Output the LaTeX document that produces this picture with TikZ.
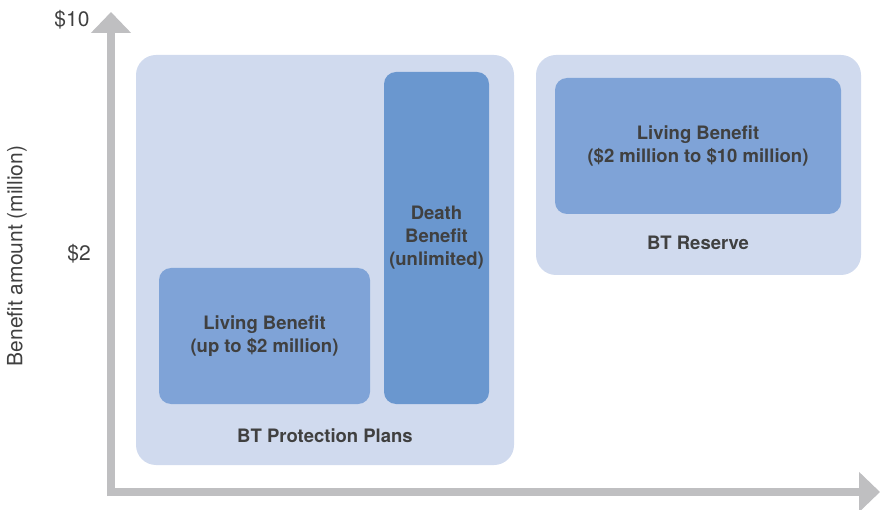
\documentclass[tikz,border=0pt]{standalone}
\usepackage{fontspec}
\setmainfont{TeX Gyre Heros}
\usetikzlibrary{positioning,arrows.meta}

\definecolor{axisgray}{HTML}{BFBFC1}
\definecolor{panelblue}{HTML}{D0DAEE}
\definecolor{livingblue}{HTML}{7FA3D7}
\definecolor{deathblue}{HTML}{6A97CF}
\definecolor{textgray}{HTML}{404040}

\tikzset{
  panel/.style={fill=panelblue, rounded corners=20pt, inner sep=0pt},
  benefit/.style={fill=livingblue, rounded corners=12pt, inner sep=0pt, align=center,
    text=textgray, font=\fontsize{18.5}{23}\selectfont\bfseries},
  caption/.style={text=textgray, font=\fontsize{18.5}{23}\selectfont\bfseries},
  ticklabel/.style={text=textgray, font=\fontsize{21}{25}\selectfont},
  axis/.style={draw=axisgray, line width=8pt, -{Triangle[width=39pt,length=21pt]}}
}

\begin{document}
\begin{tikzpicture}[x=1pt, y=-1pt]
\useasboundingbox (0,0) rectangle (880,510);

% ======================================
% AXES
% ======================================
\coordinate (origin) at (111,496);
\coordinate (ytop) at (111,12);
\coordinate (xstart) at (107,492);
\coordinate (xend) at (880,492);
\draw[axis] (origin) -- (ytop);
\draw[axis] (xstart) -- (xend);

\node[ticklabel] (ten) at (72,20) {\$10};
\node[ticklabel] (two) at (79,254) {\$2};
\node[ticklabel, rotate=90] (ylabel) at (17,256) {Benefit amount (million)};

% ======================================
% PANEL 1: PROTECTION PLANS
% ======================================
\node[panel, minimum width=378pt, minimum height=410pt] (plans) at (325,260) {};
\node[benefit, minimum width=211pt, minimum height=136pt] (living) at (264.5,336) {Living Benefit\\(up to \$2 million)};
\node[benefit, fill=deathblue, minimum width=105pt, minimum height=332pt] (death) at (436.5,238) {Death\\Benefit\\(unlimited)};
\node[caption] (planscap) at (325,436) {BT Protection Plans};

% ======================================
% PANEL 2: RESERVE
% ======================================
\node[panel, minimum width=325pt, minimum height=220pt] (reserve) at (698.5,165) {};
\node[benefit, minimum width=286pt, minimum height=136pt] (livingres) at (698,146) {Living Benefit\\(\$2 million to \$10 million)};
\node[caption] (reservecap) at (698,243) {BT Reserve};

\end{tikzpicture}
\end{document}
